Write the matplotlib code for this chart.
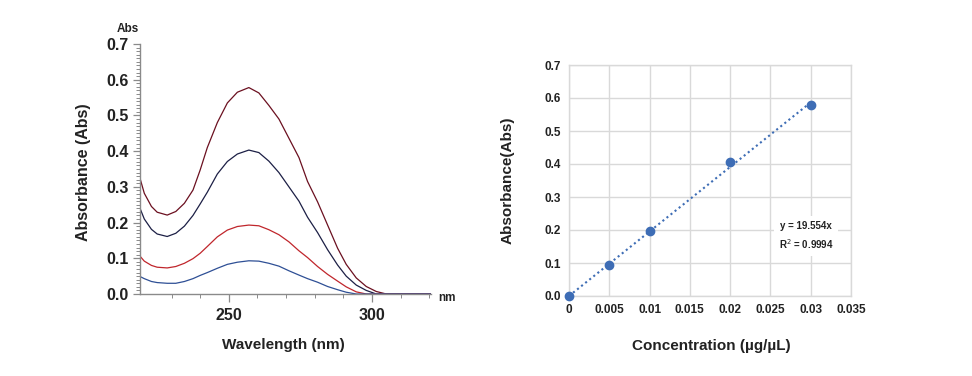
import matplotlib
matplotlib.use("Agg")
import matplotlib.pyplot as plt
from matplotlib.ticker import MultipleLocator, FixedLocator

plt.rcParams['font.family'] = ['Liberation Sans', 'DejaVu Sans']

# ---- Left: absorption spectra ----
wavelength = [219, 220.5, 223, 225, 228.5, 231.5, 234.5, 237.5, 240, 242.5, 246, 249.5,
              253, 257, 260.5, 264, 267.5, 271, 274.5, 277.5, 281, 284.5, 288, 291,
              294.5, 298, 301.5, 305, 321]
spec_030 = [0.324, 0.282, 0.245, 0.229, 0.221, 0.231, 0.254, 0.291, 0.347, 0.410, 0.480,
            0.535, 0.565, 0.578, 0.563, 0.528, 0.490, 0.436, 0.382, 0.315, 0.258, 0.193,
            0.128, 0.083, 0.045, 0.021, 0.007, 0.0, 0.0]
spec_020 = [0.240, 0.210, 0.181, 0.168, 0.161, 0.170, 0.190, 0.220, 0.252, 0.285, 0.336,
            0.371, 0.392, 0.403, 0.396, 0.372, 0.340, 0.300, 0.260, 0.215, 0.172, 0.124,
            0.081, 0.050, 0.025, 0.010, 0.0, 0.0, 0.0]
spec_010 = [0.106, 0.092, 0.080, 0.075, 0.073, 0.077, 0.086, 0.099, 0.114, 0.133, 0.160,
            0.179, 0.189, 0.193, 0.191, 0.180, 0.166, 0.146, 0.121, 0.102, 0.077, 0.055,
            0.036, 0.020, 0.006, 0.0, 0.0, 0.0, 0.0]
spec_005 = [0.049, 0.043, 0.035, 0.032, 0.030, 0.030, 0.035, 0.043, 0.052, 0.060, 0.072,
            0.083, 0.089, 0.093, 0.092, 0.086, 0.078, 0.065, 0.053, 0.043, 0.033, 0.021,
            0.012, 0.005, 0.0, 0.0, 0.0, 0.0, 0.0]
spec_colors = ['#6b1020', '#1c1f45', '#c0262c', '#2e4f95']

# ---- Right: calibration ----
conc = [0, 0.005, 0.01, 0.02, 0.03]
absorb = [0.0, 0.095, 0.198, 0.405, 0.578]
slope = 19.554
fit_x = [0, 0.03]
conc_ticks = [0, 0.005, 0.01, 0.015, 0.02, 0.025, 0.03, 0.035]
conc_labels = ['0', '0.005', '0.01', '0.015', '0.02', '0.025', '0.03', '0.035']
abs_ticks = [0.0, 0.1, 0.2, 0.3, 0.4, 0.5, 0.6, 0.7]

W, H = 972, 376
fig = plt.figure(figsize=(W / 100, H / 100), dpi=100)

def rect(l, r, t, b):
    return [l / W, 1 - b / H, (r - l) / W, (b - t) / H]

ax1 = fig.add_axes(rect(140, 431, 44, 294))
for s, c in zip([spec_030, spec_020, spec_010, spec_005], spec_colors):
    ax1.plot(wavelength, s, color=c, lw=0.9)
ax1.set_xlim(219, 320.6)
ax1.set_ylim(0, 0.7)
for sp in ['top', 'right']:
    ax1.spines[sp].set_visible(False)
for sp in ['left', 'bottom']:
    ax1.spines[sp].set_color('#8a8a8a')
    ax1.spines[sp].set_linewidth(1.0)
ax1.xaxis.set_major_locator(FixedLocator([250, 300]))
ax1.xaxis.set_minor_locator(FixedLocator([230, 240, 260, 270, 280, 290, 310, 320]))
ax1.set_yticks(abs_ticks)
ax1.set_yticklabels([f'{v:.1f}' for v in abs_ticks])
ax1.yaxis.set_minor_locator(MultipleLocator(0.01))
ax1.tick_params(axis='both', which='major', color='#8a8a8a', length=5, width=0.9,
                labelsize=11.5, pad=3, labelcolor='#222222')
ax1.tick_params(axis='both', which='minor', color='#8a8a8a', length=3, width=0.7)
ax1.tick_params(axis='x', which='major', length=6, pad=4)
for lb in ax1.get_xticklabels() + ax1.get_yticklabels():
    lb.set_fontweight('bold')
fig.text(128 / W, 1 - 29 / H, 'Abs', ha='center', va='center', fontsize=8.5,
         fontweight='bold', color='#222222')
fig.text(447 / W, 1 - 298 / H, 'nm', ha='center', va='center', fontsize=8.5,
         fontweight='bold', color='#222222')
fig.text(83 / W, 1 - 172 / H, 'Absorbance (Abs)', rotation=90, ha='center',
         va='center', fontsize=11.5, fontweight='bold', color='#222222')
fig.text(283 / W, 1 - 345 / H, 'Wavelength (nm)', ha='center', va='center',
         fontsize=11, fontweight='bold', color='#222222')

ax2 = fig.add_axes(rect(569, 851, 65, 296))
ax2.set_xlim(0, 0.035)
ax2.set_ylim(0, 0.7)
ax2.set_xticks(conc_ticks)
ax2.set_xticklabels(conc_labels)
ax2.set_yticks(abs_ticks)
ax2.set_yticklabels([f'{v:.1f}' for v in abs_ticks])
ax2.grid(True, color='#d9d9d9', lw=1.0)
ax2.set_axisbelow(True)
for sp in ax2.spines.values():
    sp.set_color('#d9d9d9')
    sp.set_linewidth(1.0)
ax2.tick_params(length=0, labelsize=8.5, pad=6, labelcolor='#222222')
for lb in ax2.get_xticklabels() + ax2.get_yticklabels():
    lb.set_fontweight('bold')
ax2.plot(fit_x, [slope * v for v in fit_x], color='#3e6db5', lw=1.5, ls=(0, (1, 1.5)))
ax2.plot(conc, absorb, 'o', color='#3e6db5', ms=6, zorder=3, clip_on=False)
ax2.text(0.0294, 0.182, 'y = 19.554x\nR$^2$ = 0.9994', ha='center', va='center',
         fontsize=7, fontweight='bold', color='#222222', linespacing=1.6,
         bbox=dict(boxstyle='square,pad=0.5', fc='white', ec='none'))
fig.text(508 / W, 1 - 180 / H, 'Absorbance(Abs)', rotation=90, ha='center',
         va='center', fontsize=11, fontweight='bold', color='#222222')
fig.text(711 / W, 1 - 346 / H, 'Concentration (µg/µL)', ha='center', va='center',
         fontsize=11, fontweight='bold', color='#222222')

fig.savefig('out.png', dpi=100)
